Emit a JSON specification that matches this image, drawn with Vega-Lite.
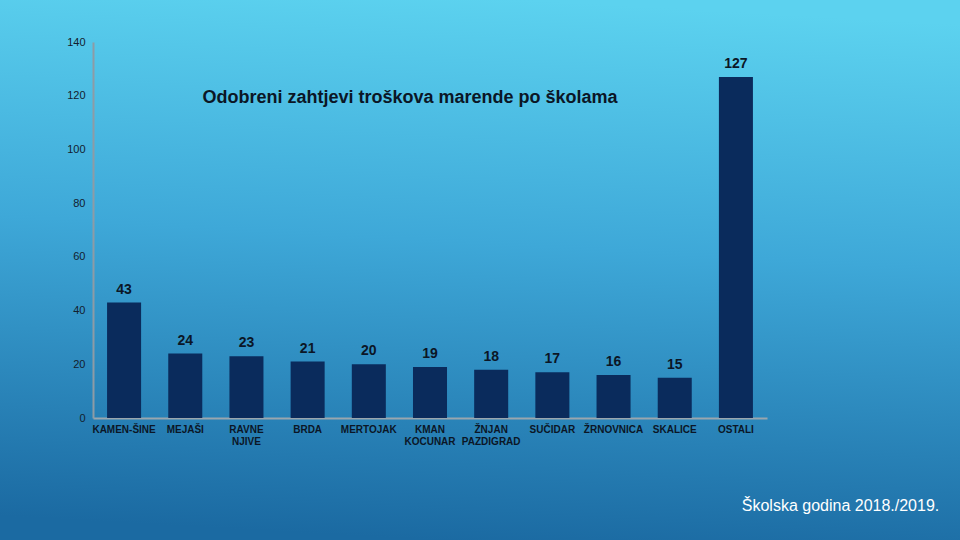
{
  "$schema": "https://vega.github.io/schema/vega-lite/v6.json",
  "width": 960,
  "height": 540,
  "autosize": {"type": "none"},
  "padding": 0,
  "background": "#3aa5d6",
  "config": {
    "view": {
      "stroke": null,
      "fill": {
        "gradient": "linear",
        "x1": 0.55, "y1": 0, "x2": 0.45, "y2": 1,
        "stops": [
          {"offset": 0, "color": "#5cd2ef"},
          {"offset": 0.45, "color": "#3ea8d8"},
          {"offset": 1, "color": "#1b6aa2"}
        ]
      }
    },
    "font": "Liberation Sans"
  },
  "title": {
    "text": "Odobreni zahtjevi troškova marende po školama",
    "font": "Liberation Sans",
    "fontSize": 18,
    "fontWeight": "bold",
    "color": "#0b1626",
    "anchor": "middle",
    "dx": -70,
    "offset": -116,
    "baseline": "middle"
  },
  "data": {
    "values": [
      {"skola": "KAMEN-ŠINE", "broj": 43},
      {"skola": "MEJAŠI", "broj": 24},
      {"skola": "RAVNE NJIVE", "broj": 23},
      {"skola": "BRDA", "broj": 21},
      {"skola": "MERTOJAK", "broj": 20},
      {"skola": "KMAN KOCUNAR", "broj": 19},
      {"skola": "ŽNJAN PAZDIGRAD", "broj": 18},
      {"skola": "SUČIDAR", "broj": 17},
      {"skola": "ŽRNOVNICA", "broj": 16},
      {"skola": "SKALICE", "broj": 15},
      {"skola": "OSTALI", "broj": 127}
    ]
  },
  "encoding": {
    "x": {
      "field": "skola",
      "type": "nominal",
      "sort": null,
      "scale": {"range": [93, 767], "paddingInner": 0.444, "paddingOuter": 0.23},
      "axis": {
        "orient": "bottom",
        "offset": -122,
        "labelAngle": 0,
        "labelExpr": "split(datum.label, ' ')",
        "labelFont": "Liberation Sans",
        "labelFontSize": 10,
        "labelFontWeight": "bold",
        "labelColor": "#0b1626",
        "labelPadding": 6,
        "labelLineHeight": 12,
        "labelBaseline": "top",
        "ticks": false,
        "domainColor": "#9aa6ae",
        "domainWidth": 2,
        "title": "Školska godina 2018./2019.",
        "titleFont": "Liberation Sans",
        "titleFontSize": 16,
        "titleFontWeight": "normal",
        "titleColor": "#ffffff",
        "titleX": 840,
        "titleY": 87,
        "titleAnchor": "middle",
        "titleBaseline": "middle"
      }
    },
    "y": {
      "field": "broj",
      "type": "quantitative",
      "scale": {"domain": [0, 140], "range": [418, 42], "nice": false},
      "axis": {
        "orient": "left",
        "offset": -93,
        "values": [0, 20, 40, 60, 80, 100, 120, 140],
        "grid": false,
        "ticks": false,
        "labelFont": "Liberation Sans",
        "labelFontSize": 11,
        "labelColor": "#13202e",
        "labelPadding": 8,
        "domainColor": "#8e9ba5",
        "domainWidth": 2,
        "title": null
      }
    }
  },
  "layer": [
    {"mark": {"type": "bar", "color": "#0a2b5c"}},
    {
      "mark": {
        "type": "text",
        "dy": -13,
        "baseline": "middle",
        "font": "Liberation Sans",
        "fontSize": 14,
        "fontWeight": "bold",
        "color": "#0b1626"
      },
      "encoding": {"text": {"field": "broj", "type": "quantitative"}}
    }
  ]
}
